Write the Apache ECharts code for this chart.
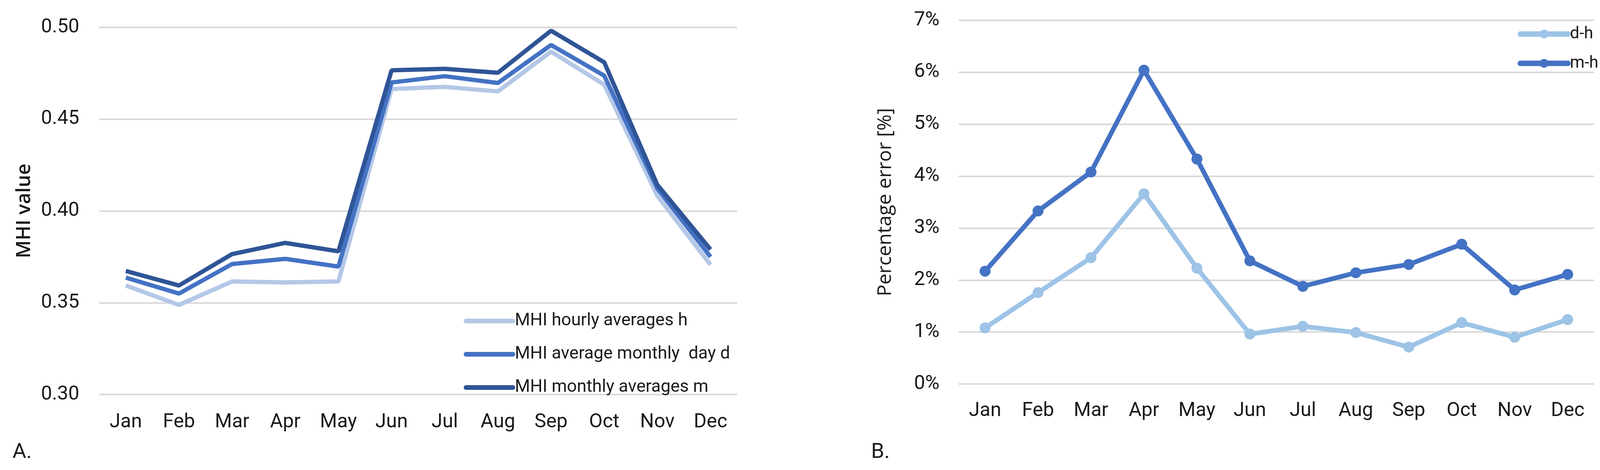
<!DOCTYPE html>
<html>
<head>
<meta charset="utf-8">
<script src="https://cdn.jsdelivr.net/npm/echarts@6/dist/echarts.min.js"></script>
<style>
html,body{margin:0;padding:0;background:#fff;}
#c{width:4127px;height:1202px;}
</style>
</head>
<body>
<div id="c"></div>
<script>
const months = ['Jan','Feb','Mar','Apr','May','Jun','Jul','Aug','Sep','Oct','Nov','Dec'];

// Panel A: MHI values
const mhiHourly  = [0.3594,0.3488,0.3616,0.3611,0.3616,0.4664,0.4676,0.4651,0.4868,0.4688,0.4082,0.3707];
const mhiDaily   = [0.3637,0.3550,0.3711,0.3739,0.3697,0.4700,0.4734,0.4697,0.4904,0.4737,0.4122,0.3750];
const mhiMonthly = [0.3673,0.3594,0.3765,0.3826,0.3780,0.4766,0.4774,0.4753,0.4982,0.4810,0.4142,0.3790];
const namesA = ['MHI hourly averages h','MHI average monthly  day d','MHI monthly averages m'];

// Panel B: percentage errors (%)
const errDH = [1.08,1.76,2.43,3.66,2.23,0.96,1.11,0.99,0.71,1.18,0.90,1.24];
const errMH = [2.17,3.33,4.08,6.04,4.33,2.37,1.88,2.14,2.30,2.69,1.81,2.11];
const namesB = ['d-h','m-h'];

const tickFont = 'Roboto, "Liberation Sans", sans-serif';
const titleFont = '"Open Sans", "Noto Sans", sans-serif';
const txt = '#1a1a1a';
const grid = '#d9d9d9';

// choose font sizes so that text widths match the reference
const mctx = document.createElement('canvas').getContext('2d');
function fit(text, family, weight, target){
  mctx.font = weight + ' 100px ' + family;
  return Math.round(100 * target / mctx.measureText(text).width * 10) / 10;
}
const tickSize   = Math.min(54, fit('0.50', tickFont, 'normal', 98));
const legendSize = fit('MHI hourly averages h', tickFont, 'normal', 442);
const titleASize = fit('MHI value', titleFont, '600', 242);
const titleBSize = fit('Percentage error [%]', titleFont, 'normal', 482);
const legBSize   = fit('m-h', tickFont, 'normal', 73);

const colA = ['#b4c7e7','#4472c4','#2f5597'];
const colB = ['#9dc3e6','#4472c4'];

const chart = echarts.init(document.getElementById('c'), null, {renderer:'canvas'});
chart.setOption({
  backgroundColor:'#fff',
  animation:false,
  grid:[
    {left:254, top:70, width:1633, height:939},
    {left:2454, top:52, width:1627, height:930}
  ],
  xAxis:[
    {type:'category', gridIndex:0, data:months, boundaryGap:true,
     axisLine:{show:false}, axisTick:{show:false},
     axisLabel:{fontFamily:tickFont, fontSize:tickSize, color:txt, margin:46}},
    {type:'category', gridIndex:1, data:months, boundaryGap:true,
     axisLine:{show:false}, axisTick:{show:false},
     axisLabel:{fontFamily:tickFont, fontSize:tickSize, color:txt, margin:44}}
  ],
  yAxis:[
    {type:'value', gridIndex:0, min:0.30, max:0.50, interval:0.05,
     name:'MHI value', nameLocation:'middle', nameGap:166,
     nameTextStyle:{fontFamily:titleFont, fontSize:titleASize, fontWeight:600, color:txt},
     axisLine:{show:false}, axisTick:{show:false},
     axisLabel:{fontFamily:tickFont, fontSize:tickSize, color:txt, margin:51, formatter:v=>v.toFixed(2)},
     splitLine:{lineStyle:{color:grid, width:4}}},
    {type:'value', gridIndex:1, min:0, max:7, interval:1,
     name:'Percentage error [%]', nameLocation:'middle', nameGap:162,
     nameTextStyle:{fontFamily:titleFont, fontSize:titleBSize, color:txt},
     axisLine:{show:false}, axisTick:{show:false},
     axisLabel:{fontFamily:tickFont, fontSize:tickSize, color:txt, margin:49, formatter:v=>v+'%'},
     splitLine:{lineStyle:{color:grid, width:4}}}
  ],
  legend:[
    {data:namesA, orient:'vertical', left:1187, top:797, itemGap:37, padding:0,
     itemWidth:120, itemHeight:14,
     lineStyle:{width:12, cap:'round'},
     textStyle:{fontFamily:tickFont, fontSize:legendSize, lineHeight:48, color:txt}},
    {data:namesB, orient:'vertical', left:3885, top:63, itemGap:27, padding:0,
     itemWidth:122, itemHeight:28,
     lineStyle:{width:14, cap:'round'},
     textStyle:{fontFamily:tickFont, fontSize:legBSize, lineHeight:48, color:txt}}
  ],
  graphic:[
    {type:'text', left:32, top:1130, style:{text:'A.', font:'54px '+tickFont, fill:txt}},
    {type:'text', left:2230, top:1130, style:{text:'B.', font:'54px '+tickFont, fill:txt}}
  ],
  series:[
    {name:namesA[0], type:'line', xAxisIndex:0, yAxisIndex:0, data:mhiHourly, symbol:'none',
     lineStyle:{width:11, color:colA[0]}, itemStyle:{color:colA[0]}},
    {name:namesA[1], type:'line', xAxisIndex:0, yAxisIndex:0, data:mhiDaily, symbol:'none',
     lineStyle:{width:11, color:colA[1]}, itemStyle:{color:colA[1]}},
    {name:namesA[2], type:'line', xAxisIndex:0, yAxisIndex:0, data:mhiMonthly, symbol:'none',
     lineStyle:{width:11, color:colA[2]}, itemStyle:{color:colA[2]}},
    {name:namesB[0], type:'line', xAxisIndex:1, yAxisIndex:1, data:errDH, symbol:'circle', symbolSize:28,
     lineStyle:{width:12, color:colB[0]}, itemStyle:{color:colB[0]}},
    {name:namesB[1], type:'line', xAxisIndex:1, yAxisIndex:1, data:errMH, symbol:'circle', symbolSize:28,
     lineStyle:{width:12, color:colB[1]}, itemStyle:{color:colB[1]}}
  ]
});
</script>
</body>
</html>
